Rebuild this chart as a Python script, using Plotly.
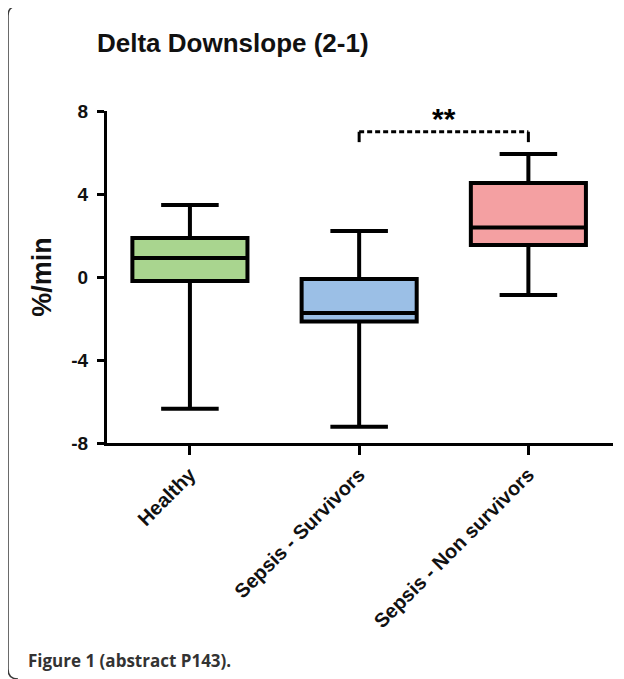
import plotly.graph_objects as go

categories = ["Healthy", "Sepsis - Survivors", "Sepsis - Non survivors"]
q1_vals = [-0.19, -2.15, 1.54]
median_vals = [0.92, -1.73, 2.38]
q3_vals = [1.88, -0.1, 4.53]
lower_whisker = [-6.35, -7.22, -0.87]
upper_whisker = [3.47, 2.22, 5.93]
fill_colors = ["#a9d58f", "#9bbfe6", "#f4a0a2"]
y_ticks = [-8, -4, 0, 4, 8]
bracket_pair = [1, 2]
bracket_level = 7.0
bracket_drop = 6.5

OFF = 8  # page body margin
W, H = 624 - OFF, 679 - OFF
L, R, T, B = 107 - OFF, 11, 111 - OFF, 236
pw, ph = W - L - R, H - T - B
FONT = "Arial, Liberation Sans, Helvetica, sans-serif"


def px(x):
    return (x - OFF - L) / pw


def py(y):
    return (H - B - (y - OFF)) / ph


fig = go.Figure()
for i, cat in enumerate(categories):
    fig.add_trace(go.Box(
        x=[cat], q1=[q1_vals[i]], median=[median_vals[i]], q3=[q3_vals[i]],
        lowerfence=[lower_whisker[i]], upperfence=[upper_whisker[i]],
        fillcolor=fill_colors[i], line=dict(color="black", width=4),
        whiskerwidth=0.5, width=0.68, boxpoints=False, showlegend=False,
        hoverinfo="skip",
    ))

# significance bracket
xa, xb = categories[bracket_pair[0]], categories[bracket_pair[1]]
fig.add_shape(type="line", xref="x", yref="y", x0=xa, x1=xb, y0=bracket_level, y1=bracket_level,
              line=dict(color="black", width=3, dash="5px,3px"))
for xc in (xa, xb):
    fig.add_shape(type="line", xref="x", yref="y", x0=xc, x1=xc, y0=bracket_drop, y1=bracket_level,
                  line=dict(color="black", width=3))
fig.add_annotation(x=1.5, y=bracket_level, xref="x", yref="y", text="<b>**</b>", showarrow=False,
                   yanchor="bottom", yshift=-5, font=dict(family=FONT, size=30, color="black"))

# frame
r = 10
x0p, y0p = 8, 6
path = (f"M {px(640)},{py(y0p)} L {px(x0p+r)},{py(y0p)} "
        f"Q {px(x0p)},{py(y0p)} {px(x0p)},{py(y0p+r)} "
        f"L {px(x0p)},{py(679-r)} Q {px(x0p)},{py(679)} {px(x0p+r)},{py(679)}")
fig.add_shape(type="path", xref="paper", yref="paper", path=path,
              line=dict(color="#3a3a3a", width=1.5), layer="below")

fig.add_annotation(xref="paper", yref="paper", x=px(95), y=py(43), xanchor="left", yanchor="middle",
                   text="<b>Delta Downslope (2-1)</b>", showarrow=False,
                   font=dict(family=FONT, size=26, color="#111"))
fig.add_annotation(xref="paper", yref="paper", x=px(26), y=py(660), xanchor="left", yanchor="middle",
                   text="<b>Figure 1 (abstract P143).</b>", showarrow=False,
                   font=dict(family="Open Sans", size=17, color="#333"))

fig.update_layout(
    width=W, height=H, margin=dict(l=L, r=R, t=T, b=B, autoexpand=False),
    paper_bgcolor="white", plot_bgcolor="white",
    xaxis=dict(type="category", range=[-0.49, 2.5], showline=True, linecolor="black", linewidth=3,
               ticks="outside", ticklen=9, tickwidth=3, tickcolor="black", tickangle=-45,
               showgrid=False, zeroline=False,
               tickfont=dict(family=FONT, size=20, color="#111"),
               tickprefix="<b>", ticksuffix="</b>"),
    yaxis=dict(range=[-8, 8], tickvals=y_ticks, ticktext=[f"<b>{v}</b>" for v in y_ticks],
               showline=True, linecolor="black", linewidth=3,
               ticks="outside", ticklen=7, tickwidth=3, tickcolor="black",
               showgrid=False, zeroline=False, ticklabelstandoff=5,
               tickfont=dict(family=FONT, size=19, color="#111"),
               title=dict(text="<b>%/min</b>", font=dict(family=FONT, size=27, color="#111"),
                          standoff=12)),
    boxmode="overlay",
)

fig.write_html("out.html")
